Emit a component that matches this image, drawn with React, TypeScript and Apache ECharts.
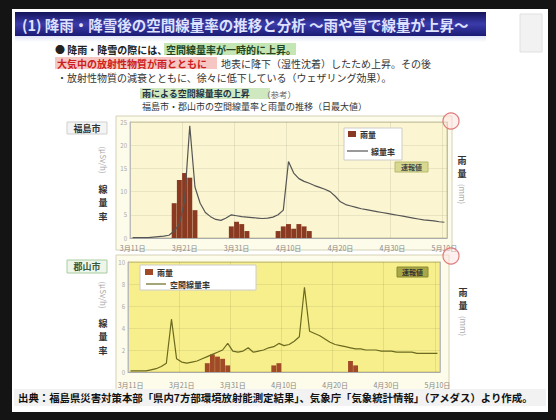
import React, { useEffect, useRef } from "react";
import * as echarts from "echarts";

const days: string[] = [
  "3月11日", "3月12日", "3月13日", "3月14日", "3月15日", "3月16日", "3月17日", "3月18日", "3月19日", "3月20日",
  "3月21日", "3月22日", "3月23日", "3月24日", "3月25日", "3月26日", "3月27日", "3月28日", "3月29日", "3月30日",
  "3月31日", "4月1日", "4月2日", "4月3日", "4月4日", "4月5日", "4月6日", "4月7日", "4月8日", "4月9日",
  "4月10日", "4月11日", "4月12日", "4月13日", "4月14日", "4月15日", "4月16日", "4月17日", "4月18日", "4月19日",
  "4月20日", "4月21日", "4月22日", "4月23日", "4月24日", "4月25日", "4月26日", "4月27日", "4月28日", "4月29日",
  "4月30日", "5月1日", "5月2日", "5月3日", "5月4日", "5月5日", "5月6日", "5月7日", "5月8日", "5月9日",
  "5月10日",
];

// 福島市: 空間線量率 (μSv/h)
const fukushimaDose: number[] = [
  0.1, 0.1, 0.1, 0.1, 0.2, 0.3, 0.4, 0.6, 1.5, 3.0,
  8.0, 24.2, 11.0, 7.5, 5.5, 4.6, 4.0, 3.8, 4.3, 5.0,
  4.8, 4.6, 4.5, 4.4, 4.3, 4.2, 4.3, 4.5, 5.0, 6.0,
  16.5, 14.0, 12.8, 12.2, 11.8, 11.3, 10.9, 10.5, 10.0, 9.0,
  7.8, 7.2, 6.9, 6.6, 6.3, 6.1, 5.9, 5.7, 5.5, 5.3,
  5.1, 4.9, 4.7, 4.5, 4.3, 4.1, 3.9, 3.8, 3.7, 3.5,
  3.4,
];
// 福島市: 雨量 (mm)
const fukushimaRain: number[] = [
  0, 0, 0, 0, 0, 0, 0, 0, 15, 25,
  28, 26, 12, 0, 0, 0, 0, 0, 0, 5,
  7, 6, 3, 0, 0, 0, 0, 0, 3, 5,
  6, 4, 6, 5, 3, 0, 0, 0, 0, 0,
  0, 0, 0, 0, 0, 0, 0, 0, 0, 0,
  0, 0, 0, 0, 0, 0, 0, 0, 0, 0,
  0,
];
// 郡山市: 空間線量率 (μSv/h)
const koriyamaDose: number[] = [
  0.1, 0.1, 0.1, 0.1, 0.2, 0.3, 0.5, 0.8, 4.8, 1.2,
  0.9, 0.8, 0.9, 1.0, 1.2, 1.4, 1.6, 1.8, 2.0, 2.6,
  1.9, 1.8, 1.9, 2.2, 1.8, 1.9, 2.0, 2.2, 2.3, 2.6,
  2.4, 2.5, 2.8, 3.2, 7.7, 3.7, 3.5, 3.3, 3.0, 2.7,
  2.5, 2.4, 2.3, 2.2, 2.1, 2.1, 2.0, 2.0, 2.0, 1.9,
  1.9, 1.9, 1.8, 1.8, 1.8, 1.8, 1.7, 1.7, 1.7, 1.7,
  1.7,
];
// 郡山市: 雨量 (mm)
const koriyamaRain: number[] = [
  0, 0, 0, 0, 0, 0, 0, 0, 0, 0,
  0, 0, 0, 0, 0, 4, 8, 7, 6, 3,
  0, 0, 0, 0, 0, 0, 0, 0, 3, 4,
  0, 0, 0, 0, 0, 0, 0, 0, 0, 0,
  0, 0, 0, 5, 3, 0, 0, 0, 0, 0,
  0, 0, 0, 0, 0, 0, 0, 0, 0, 0,
  0,
];

const FONT = '"Noto Sans CJK JP", "Noto Sans", sans-serif';

function txt(x: number, y: number, text: string, size: number, fill: string, extra: any = {}) {
  return {
    type: "text",
    x,
    y,
    z: 100,
    style: {
      text,
      fill,
      font: `${extra.weight || "normal"} ${size}px ${FONT}`,
      verticalAlign: extra.valign || "middle",
      align: extra.align || "left",
    },
    rotation: extra.rotation || 0,
  };
}

function rect(x: number, y: number, w: number, h: number, fill: any, stroke?: string, z = -1, lineWidth = 1) {
  return {
    type: "rect",
    z,
    shape: { x, y, width: w, height: h },
    style: { fill, stroke: stroke || "none", lineWidth },
  };
}

// vertical (top-to-bottom) text as separate characters
function vstack(x: number, yFirst: number, chars: string, size: number, fill: string, step: number) {
  return chars.split("").map((c, i) =>
    txt(x, yFirst + i * step, c, size, fill, { align: "center", weight: "bold" })
  );
}

export default function App() {
  const ref = useRef<HTMLDivElement>(null);

  useEffect(() => {
    if (!ref.current) return;
    const chart = echarts.init(ref.current, null, { renderer: "svg" });

    const xAxisCommon = {
      type: "category",
      data: days,
      axisTick: { show: false },
      axisLine: { lineStyle: { color: "#aaa" } },
      axisLabel: { interval: 9, fontSize: 7, color: "#888", fontFamily: FONT },
      splitLine: { show: true, interval: 9, lineStyle: { color: "rgba(0,0,0,0.08)" } },
    };
    const yLeft = {
      type: "value",
      min: 0,
      axisLine: { show: true, lineStyle: { color: "#bbb" } },
      axisTick: { show: false },
      axisLabel: { fontSize: 6, color: "#aaa", margin: 3 },
      splitLine: { lineStyle: { color: "rgba(0,0,0,0.07)" } },
    };
    const yRight = {
      type: "value",
      min: 0,
      max: 50,
      interval: 10,
      position: "right",
      axisLine: { show: true, lineStyle: { color: "#bbb" } },
      axisTick: { show: false },
      axisLabel: { show: false },
      splitLine: { show: false },
    };

    const graphic: any[] = [
      // slide
      rect(12, 9, 536, 403, "#ffffff", undefined, -5),
      rect(15, 12, 471, 24, {
        type: "linear", x: 0, y: 0, x2: 0, y2: 1,
        colorStops: [
          { offset: 0, color: "#14145a" },
          { offset: 0.5, color: "#3b3bab" },
          { offset: 1, color: "#1b1b74" },
        ],
      }, undefined, -4),
      rect(15, 36, 471, 6, {
        type: "linear", x: 0, y: 0, x2: 0, y2: 1,
        colorStops: [
          { offset: 0, color: "#dfe3f5" },
          { offset: 1, color: "#ffffff" },
        ],
      }, undefined, -4),
      rect(520, 14, 22, 38, "#f2f2f2", "#e0e0e0", -4),
      txt(22, 24, "(1) 降雨・降雪後の空間線量率の推移と分析 ～雨や雪で線量が上昇～", 14.5, "#dfe2ff", { weight: "bold" }),

      // text lines
      txt(55, 49, "● 降雨・降雪の際には、", 10, "#222", { weight: "bold" }),
      rect(164, 43, 132, 12, "#c4e6b4", undefined, -3),
      txt(166, 49, "空間線量率が一時的に上昇。", 10, "#224422", { weight: "bold" }),
      rect(55, 57, 162, 12, "#f6c6c2", undefined, -3),
      txt(57, 63, "大気中の放射性物質が雨とともに", 10, "#cc2020", { weight: "bold" }),
      txt(221, 63, "地表に降下（湿性沈着）したため上昇。その後", 10, "#333"),
      txt(57, 77, "・放射性物質の減衰とともに、徐々に低下している（ウェザリング効果）。", 10, "#333"),
      rect(140, 88, 130, 11, "#cfe8c0", undefined, -3),
      txt(142, 93.5, "雨による空間線量率の上昇", 9, "#234", { weight: "bold" }),
      txt(262, 93.5, "（参考）", 8.5, "#666"),
      txt(142, 106, "福島市・郡山市の空間線量率と雨量の推移（日最大値）", 9, "#333"),

      // top chart frame
      rect(116, 116, 336, 134, "#fdfbea", "#d6d2b6", -3),
      rect(130, 122, 317, 116, "#fbf6d1", "#c8c4a0", -2),
      rect(67, 122, 40, 12, "#f4f4f4", "#cfcfcf", -2),
      txt(87, 128, "福島市", 9, "#333", { align: "center", weight: "bold" }),
      txt(103, 160, "(μSv/h)", 8, "#aaa", { align: "center", rotation: -Math.PI / 2 }),
      ...vstack(103, 189, "線量率", 9, "#333", 13.5),
      ...vstack(462, 160, "雨量", 9, "#333", 13.5),
      txt(462, 194, "(mm)", 8, "#aaa", { align: "center", rotation: -Math.PI / 2 }),
      // top legend
      rect(344, 128, 58, 32, "#ffffff", "#cccccc", 10),
      { type: "rect", z: 101, shape: { x: 348, y: 131, width: 8, height: 6 }, style: { fill: "#8b3a22" } },
      txt(360, 134, "雨量", 8, "#333", { weight: "bold" }),
      { type: "line", z: 101, shape: { x1: 347, y1: 151, x2: 368, y2: 151 }, style: { stroke: "#555", lineWidth: 1.2 } },
      txt(371, 151, "線量率", 8, "#333", { weight: "bold" }),
      rect(395, 162, 33, 10, "#d8d890", "#b8b870", 10),
      txt(411.5, 167, "速報値", 7, "#444", { align: "center", weight: "bold" }),
      { type: "circle", z: 101, shape: { cx: 451, cy: 121, r: 8 }, style: { fill: "rgba(255,225,225,0.5)", stroke: "#e07a7a", lineWidth: 1.2 } },

      // bottom chart frame
      rect(116, 255, 333, 137, "#fdfbea", "#d6d2b6", -3),
      rect(128, 262, 312, 110, "#f7ef8c", "#c8c070", -2),
      rect(67, 260, 40, 13, "#eef6ea", "#a8cca0", -2),
      txt(87, 266.5, "郡山市", 9, "#3a5a3a", { align: "center", weight: "bold" }),
      txt(103, 295, "(μSv/h)", 8, "#aaa", { align: "center", rotation: -Math.PI / 2 }),
      ...vstack(103, 323, "線量率", 9, "#333", 13.5),
      ...vstack(463, 292, "雨量", 9, "#333", 13.5),
      txt(463, 326, "(mm)", 8, "#aaa", { align: "center", rotation: -Math.PI / 2 }),
      rect(140, 265, 116, 25, "#ffffff", "#cccccc", 10),
      { type: "rect", z: 101, shape: { x: 145, y: 269, width: 8, height: 6 }, style: { fill: "#a04a28" } },
      txt(157, 272, "雨量", 8, "#333", { weight: "bold" }),
      { type: "line", z: 101, shape: { x1: 146, y1: 284, x2: 166, y2: 284 }, style: { stroke: "#6b6a1e", lineWidth: 1.2 } },
      txt(170, 284, "空間線量率", 8, "#333", { weight: "bold" }),
      rect(397, 267, 31, 10, "#a8a848", "#8a8a30", 10),
      txt(412.5, 272, "速報値", 7, "#333", { align: "center", weight: "bold" }),
      { type: "circle", z: 101, shape: { cx: 451, cy: 256, r: 8 }, style: { fill: "rgba(255,225,225,0.5)", stroke: "#e07a7a", lineWidth: 1.2 } },

      // footer
      rect(14, 389, 532, 17, "#f2f2f2", undefined, -3),
      txt(18, 397.5, "出典：福島県災害対策本部「県内7方部環境放射能測定結果」、気象庁「気象統計情報」（アメダス）より作成。", 10.4, "#111", { weight: "bold" }),
    ];

    chart.setOption({
      animation: false,
      backgroundColor: "#141414",
      textStyle: { fontFamily: FONT },
      grid: [
        { left: 130, top: 122, width: 317, height: 116, show: false },
        { left: 128, top: 262, width: 312, height: 110, show: false },
      ],
      xAxis: [
        { ...xAxisCommon, gridIndex: 0, axisLabel: { ...xAxisCommon.axisLabel, margin: 6 } },
        { ...xAxisCommon, gridIndex: 1, axisLabel: { ...xAxisCommon.axisLabel, margin: 9 } },
      ],
      yAxis: [
        { ...yLeft, gridIndex: 0, max: 25, interval: 5 },
        { ...yRight, gridIndex: 0 },
        { ...yLeft, gridIndex: 1, max: 10, interval: 2 },
        { ...yRight, gridIndex: 1 },
      ],
      series: [
        {
          name: "福島市 雨量", type: "bar", xAxisIndex: 0, yAxisIndex: 1, data: fukushimaRain,
          barCategoryGap: "5%", itemStyle: { color: "#8b3a22" }, z: 2,
        },
        {
          name: "福島市 空間線量率", type: "line", xAxisIndex: 0, yAxisIndex: 0, data: fukushimaDose,
          symbol: "none", lineStyle: { color: "#555", width: 1.2 }, z: 3,
        },
        {
          name: "郡山市 雨量", type: "bar", xAxisIndex: 1, yAxisIndex: 3, data: koriyamaRain,
          barCategoryGap: "5%", itemStyle: { color: "#a04a28" }, z: 2,
        },
        {
          name: "郡山市 空間線量率", type: "line", xAxisIndex: 1, yAxisIndex: 2, data: koriyamaDose,
          symbol: "none", lineStyle: { color: "#6b6a1e", width: 1.2 }, z: 3,
        },
      ],
      graphic: { elements: graphic },
    });

    return () => chart.dispose();
  }, []);

  return (
    <div
      ref={ref}
      style={{ position: "fixed", left: 0, top: 0, width: 556, height: 420 }}
    />
  );
}
